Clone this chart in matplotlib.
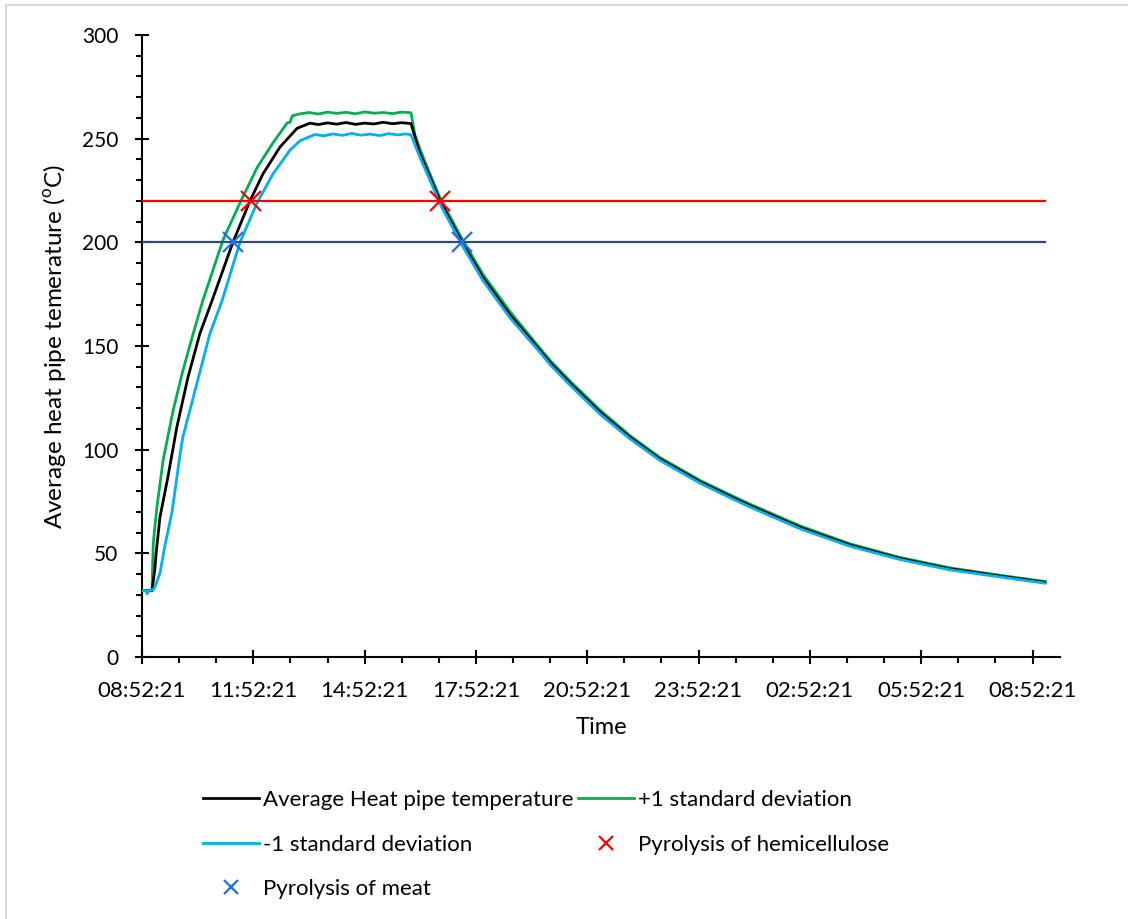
#!/usr/bin/env python3
"""
Average heat pipe temperature over one day with pyrolysis thresholds
"""
import matplotlib
matplotlib.use('Agg')
import matplotlib.pyplot as plt
from matplotlib.lines import Line2D
from matplotlib.ticker import MultipleLocator

# time in hours after 08:52:21
avg_t = [0.0, 0.27, 0.35, 0.38, 0.485, 0.70, 0.94, 1.24, 1.56, 1.89, 2.45, 2.91, 3.26, 3.72, 4.18, 4.53,
         4.75, 5.0, 5.25, 5.5, 5.75, 6.0, 6.25, 6.5, 6.75, 7.0, 7.25,
         7.49, 7.76, 8.03, 8.63, 9.19, 9.92, 10.65, 11.0, 11.54, 12.35, 13.15, 13.96, 15.04,
         15.85, 16.39, 17.74, 19.08, 20.43, 21.78, 23.13, 24.34]
avg_v = [32, 32, 43, 50, 67.5, 87, 111, 135, 156, 172, 200, 220, 233, 246, 255, 257.5,
         256.8, 257.6, 257.0, 257.8, 256.9, 257.5, 257.1, 257.9, 257.2, 257.7, 257.3,
         243, 231.5, 220, 200, 183, 165, 149.5, 142, 132, 118, 106, 95.5, 84.5,
         77.5, 73, 62.5, 54, 47.5, 42.5, 39, 36]

plus_t = [0.0, 0.27, 0.30, 0.32, 0.40, 0.57, 0.84, 1.10, 1.38, 1.64, 2.18, 2.64, 3.10, 3.53, 3.91, 3.99, 4.05, 4.26,
          4.5, 4.75, 5.0, 5.25, 5.5, 5.75, 6.0, 6.25, 6.5, 6.75, 7.0, 7.25,
          7.35, 7.49, 7.76, 8.03, 8.63, 9.19, 9.92, 10.65, 11.0, 11.54, 12.35, 13.15, 13.96, 15.04,
          15.85, 16.39, 17.74, 19.08, 20.43, 21.78, 23.13, 24.34]
plus_v = [32, 32, 53, 58, 72, 95, 119, 138, 156, 172, 201, 219, 236, 248, 257.5, 258, 261, 262,
          262.6, 261.9, 262.8, 262.2, 262.7, 262.0, 262.9, 262.3, 262.6, 262.1, 262.8, 262.5,
          252, 245, 233, 221.5, 201.5, 184.5, 166.5, 150.5, 143, 133, 119, 106.8, 96.2, 85.2,
          78.2, 73.7, 63.2, 54.6, 48, 43, 39.4, 36.4]

minus_t = [0.0, 0.11, 0.135, 0.19, 0.30, 0.35, 0.485, 0.62, 0.81, 1.02, 1.10, 1.48, 1.83, 2.16, 2.64, 3.10, 3.53,
           3.99, 4.26, 4.66,
           4.9, 5.15, 5.4, 5.65, 5.9, 6.15, 6.4, 6.65, 6.9, 7.1, 7.25,
           7.49, 7.76, 8.03, 8.63, 9.19, 9.92, 10.65, 11.0, 11.54, 12.35, 13.15, 13.96, 15.04,
           15.85, 16.39, 17.74, 19.08, 20.43, 21.78, 23.13, 24.34]
minus_v = [32, 32, 30.5, 32, 32.5, 34, 40.5, 54, 70, 97, 106, 132, 156, 172, 200, 219, 233,
           244.5, 249, 252,
           251.4, 252.3, 251.6, 252.5, 251.7, 252.2, 251.5, 252.4, 251.8, 252.3, 251.9,
           241, 230, 218.5, 198.5, 181.5, 163.5, 148.5, 141, 131, 117, 105.2, 94.8, 83.8,
           76.8, 72.3, 61.8, 53.4, 47, 42, 38.6, 35.6]

hemi_level = 220
meat_level = 200
level_t = [0.0, 24.34]
hemi_t = [2.93, 8.03]
meat_t = [2.46, 8.63]

tick_hours = [0, 3, 6, 9, 12, 15, 18, 21, 24]
tick_labels = ['08:52:21', '11:52:21', '14:52:21', '17:52:21', '20:52:21',
               '23:52:21', '02:52:21', '05:52:21', '08:52:21']

plt.rcParams['font.family'] = ['Lato', 'DejaVu Sans']
plt.rcParams['mathtext.fontset'] = 'custom'
plt.rcParams['mathtext.rm'] = 'Lato'

W, H = 1128, 919
fig = plt.figure(figsize=(W / 100, H / 100), dpi=100)
ax = fig.add_axes([142 / W, 1 - 657 / H, (1060 - 142) / W, (657 - 35) / H])

ax.plot(avg_t, avg_v, color='black', lw=2.0, label='Average Heat pipe temperature', zorder=3)
ax.plot(plus_t, plus_v, color='#00B050', lw=2.0, label='+1 standard deviation', zorder=2)
ax.plot(minus_t, minus_v, color='#00B0F0', lw=2.0, label='-1 standard deviation', zorder=4)
ax.plot(level_t, [hemi_level] * 2, color='#FF0000', lw=1.6, zorder=5)
ax.plot(level_t, [meat_level] * 2, color='#2E4A7F', lw=1.6, zorder=5)
ax.plot(hemi_t, [hemi_level] * 2, ls='none', marker='x', ms=14, mew=1.6, color='#FF0000',
        label='Pyrolysis of hemicellulose', zorder=6)
ax.plot(meat_t, [meat_level] * 2, ls='none', marker='x', ms=14, mew=1.6, color='#1F6FEB',
        label='Pyrolysis of meat', zorder=6)

ax.set_xlim(0, 24.74)
ax.set_ylim(0, 300)
ax.set_xticks(tick_hours)
ax.set_xticklabels(tick_labels)
ax.xaxis.set_minor_locator(MultipleLocator(1))
ax.yaxis.set_major_locator(MultipleLocator(50))
ax.yaxis.set_minor_locator(MultipleLocator(10))

for side in ['top', 'right']:
    ax.spines[side].set_visible(False)
for side in ['left', 'bottom']:
    ax.spines[side].set_linewidth(1.5)
ax.tick_params(which='major', direction='inout', length=10, width=1.5, labelsize=15)
ax.tick_params(which='minor', direction='out', length=4, width=1.5)
ax.tick_params(axis='x', which='major', pad=12, labelsize=16)
ax.tick_params(axis='y', which='major', pad=12)

ax.set_xlabel('Time', fontsize=17, labelpad=12)
ax.set_ylabel(r'Average heat pipe temerature ($^{\mathrm{o}}$C)', fontsize=17.5, labelpad=10)

handles, labels = ax.get_legend_handles_labels()
order = [0, 2, 4, 1, 3]
fig.legend([handles[i] for i in order], [labels[i] for i in order],
           loc='upper left', bbox_to_anchor=(192 / W, 1 - 779 / H), ncol=2,
           frameon=False, fontsize=16, borderpad=0, handlelength=2.5,
           handletextpad=0.2, columnspacing=0.2, labelspacing=1.1, markerscale=0.75)

# light chart border
fig.add_artist(Line2D([6 / W, 6 / W], [0, 1 - 5 / H], color='#D9D9D9', lw=1.5))
fig.add_artist(Line2D([6 / W, 1], [1 - 5 / H, 1 - 5 / H], color='#D9D9D9', lw=1.5))

fig.savefig('out.png', dpi=100)
